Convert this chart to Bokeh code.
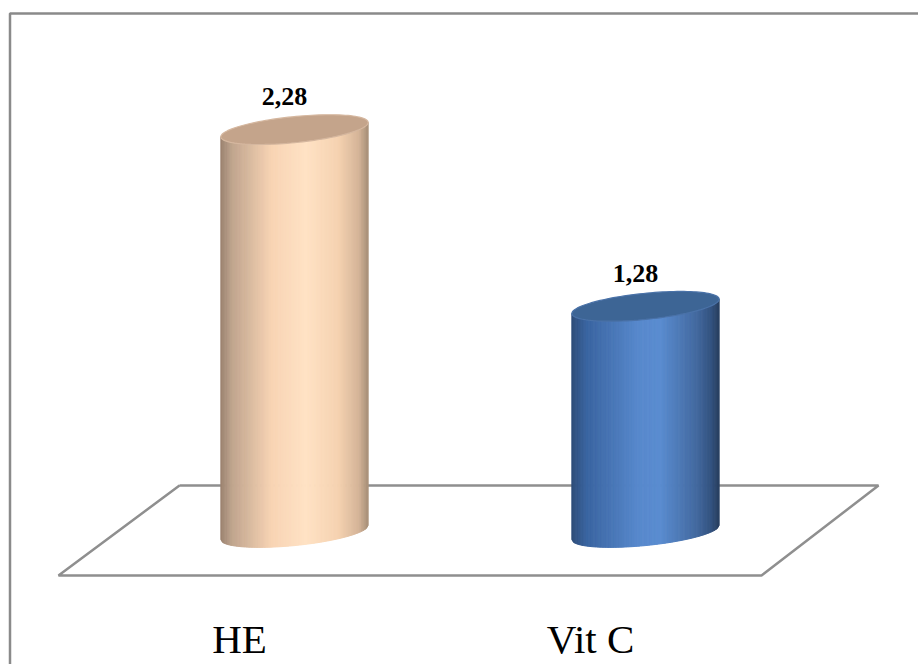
import numpy as np
from bokeh.plotting import figure
from bokeh.models import Range1d
from bokeh.core.properties import value
from bokeh.embed import file_html
from bokeh.resources import INLINE

# ---- data ----
categories = ["HE", "Vit C"]
values = [2.28, 1.28]
value_labels = ["2,28", "1,28"]

# ---- styling / layout constants ----
W, H = 918, 664
PX_X = 351.0      # pixels per category step
PX_Y = 176.7      # pixels per value unit
X0_PX = 294.0     # pixel x of first category
BASE_PX = 532.0   # pixel y of value 0

side_stops = {
    0: [(0.0, "#9a8270"), (0.08, "#c0a58e"), (0.35, "#f8d4b4"), (0.58, "#ffe2c4"),
        (0.8, "#f5d2b0"), (0.94, "#d4b498"), (1.0, "#a89078")],
    1: [(0.0, "#2e4c78"), (0.1, "#3a64a0"), (0.45, "#5788cc"), (0.6, "#5a8cd0"),
        (0.85, "#43699f"), (0.95, "#33527f"), (1.0, "#283e60")],
}
top_fill = ["#c4a48b", "#3d6595"]
top_rim = ["#d5b79f", "#4a72a8"]

x_start = -X0_PX / PX_X
x_end = (W - X0_PX) / PX_X
y_end = BASE_PX / PX_Y
y_start = (BASE_PX - H) / PX_Y

def px_to_x(px):
    return (np.asarray(px, dtype=float) - X0_PX) / PX_X

def py_to_y(py):
    return (BASE_PX - np.asarray(py, dtype=float)) / PX_Y

p = figure(width=W, height=H, output_backend="svg", toolbar_location=None,
           x_range=Range1d(x_start, x_end), y_range=Range1d(y_start, y_end),
           x_axis_type=None, y_axis_type=None, min_border=0)
p.grid.visible = False
p.outline_line_color = None
p.background_fill_color = "white"
p.border_fill_color = "white"

# outer border (top and left only visible)
p.line(px_to_x([9.5, 9.5, W + 5]), py_to_y([H + 5, 13, 13]),
       line_color="#8a8a8a", line_width=2.5)

# floor parallelogram
fx = [179, 878, 761, 58, 179]
fy = [485, 485, 575, 575, 485]
p.line(px_to_x(fx), py_to_y(fy), line_color="#8f8f8f", line_width=2.5)

# ellipse geometry (pixels, math y up)
A_R, B_R, TH = 74.0, 13.0, 0.10

def hex_to_rgb(h):
    return np.array([int(h[i:i + 2], 16) for i in (1, 3, 5)], dtype=float)

def grad(stops, s):
    for (s0, c0), (s1, c1) in zip(stops[:-1], stops[1:]):
        if s <= s1:
            t = 0 if s1 == s0 else (s - s0) / (s1 - s0)
            c = hex_to_rgb(c0) * (1 - t) + hex_to_rgb(c1) * t
            return "#%02x%02x%02x" % tuple(int(round(v)) for v in c)
    return stops[-1][1]

ct, st = np.cos(TH), np.sin(TH)
Aq = st ** 2 / A_R ** 2 + ct ** 2 / B_R ** 2
half_w = np.sqrt(A_R ** 2 * ct ** 2 + B_R ** 2 * st ** 2)

def ell_roots(dx):
    Bq = 2 * dx * ct * st * (1 / A_R ** 2 - 1 / B_R ** 2)
    Cq = dx ** 2 * (ct ** 2 / A_R ** 2 + st ** 2 / B_R ** 2) - 1
    disc = np.maximum(Bq ** 2 - 4 * Aq * Cq, 0)
    return (-Bq - np.sqrt(disc)) / (2 * Aq), (-Bq + np.sqrt(disc)) / (2 * Aq)

N = 90
edges = np.linspace(-half_w, half_w, N + 1)
t = np.linspace(0, 2 * np.pi, 120)
ex = A_R * np.cos(t) * ct - B_R * np.sin(t) * st
ey = A_R * np.cos(t) * st + B_R * np.sin(t) * ct

for i, v in enumerate(values):
    cx = X0_PX + PX_X * i
    top_py = BASE_PX - PX_Y * v
    xs, ys, cols = [], [], []
    for k in range(N):
        a, b = edges[k], edges[k + 1]
        la, ha = ell_roots(a)
        lb, hb = ell_roots(b)
        mid_a, mid_b = (la + ha) / 2, (lb + hb) / 2
        px = [cx + a, cx + b, cx + b, cx + a]
        py = [top_py - mid_a, top_py - mid_b, BASE_PX - lb, BASE_PX - la]
        xs.append(list(px_to_x(px)))
        ys.append(list(py_to_y(py)))
        cols.append(grad(side_stops[i], (k + 0.5) / N))
    p.patches(xs, ys, fill_color=cols, line_color=cols, line_width=1)
    # top ellipse
    p.patch(px_to_x(cx + ex), py_to_y(top_py - ey), fill_color=top_fill[i],
            line_color=top_rim[i], line_width=1.2)

# value labels
p.text(x=[i - 10 / PX_X for i in range(len(values))],
       y=[v + 33 / PX_Y for v in values], text=value_labels,
       text_font=value("Liberation Serif"), text_font_style="bold",
       text_font_size="26px", text_align="center", text_baseline="alphabetic",
       text_color="black")

# category labels
p.text(x=[i - 55 / PX_X for i in range(len(categories))],
       y=[(BASE_PX - 638) / PX_Y] * len(categories), text=categories,
       text_font=value("Liberation Serif"), text_font_size="41px",
       text_align="center", text_baseline="alphabetic", text_color="black")

open("out.html", "w").write(file_html(p, INLINE))
